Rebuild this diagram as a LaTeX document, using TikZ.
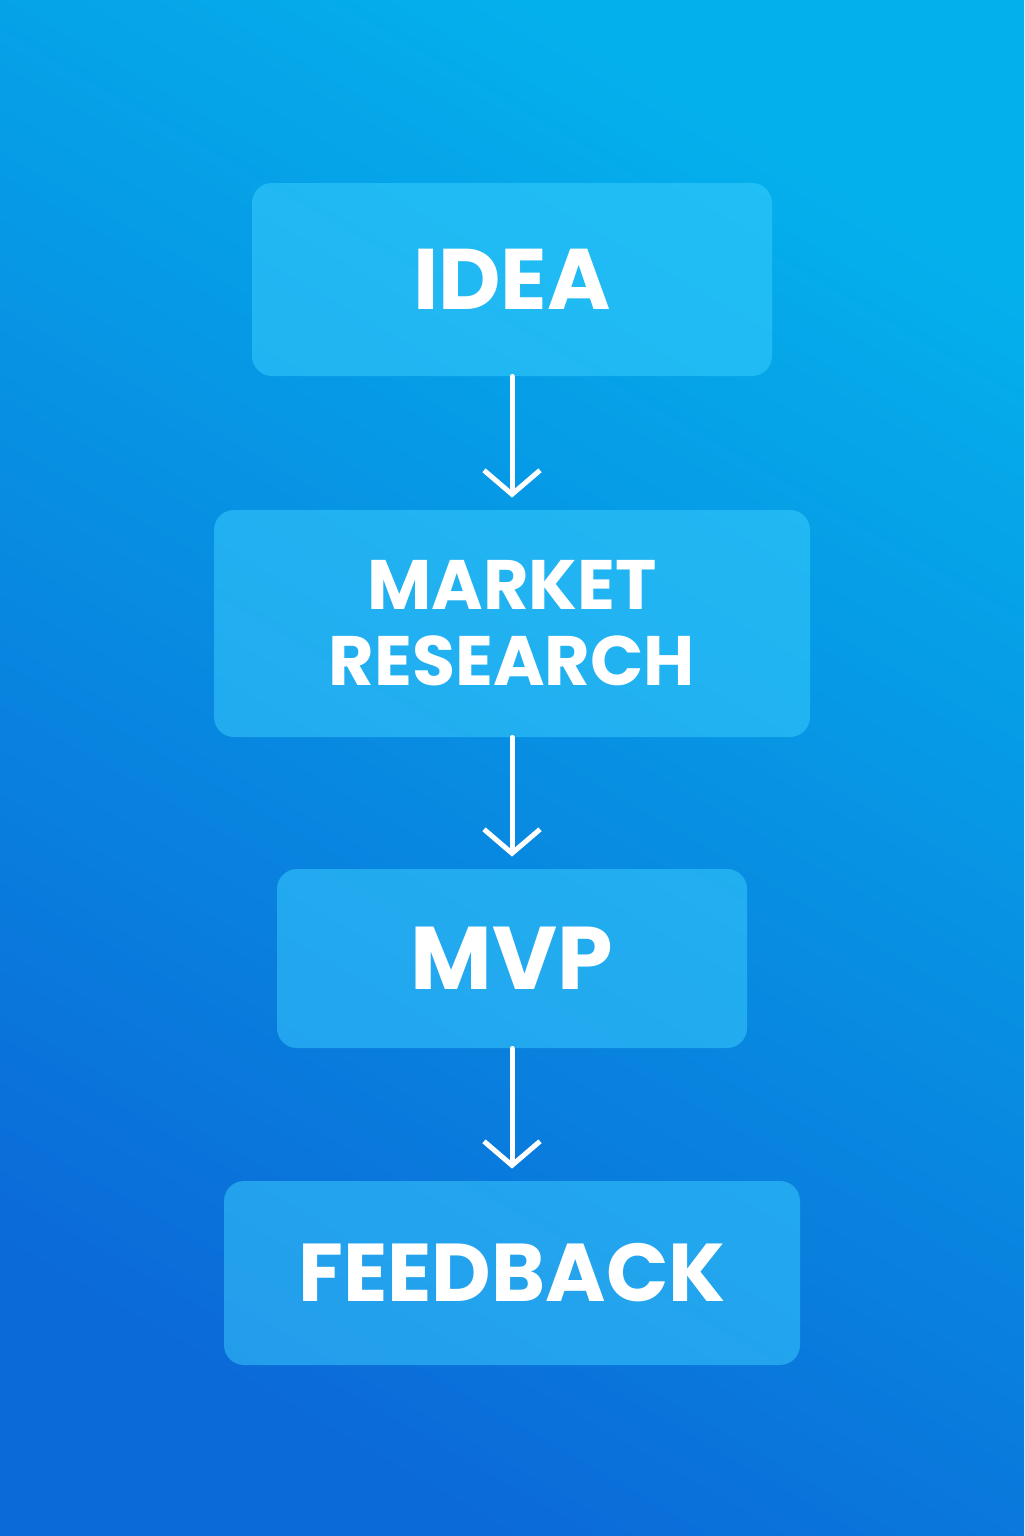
\documentclass[tikz,border=0pt]{standalone}
\usepackage{fontspec}
\setmainfont{Poppins}
\usetikzlibrary{arrows.meta}
\definecolor{bgtop}{HTML}{04B0EC}
\definecolor{bgbot}{HTML}{0B6AD8}
\definecolor{boxfill}{HTML}{3CD0FF}

\begin{document}
\begin{tikzpicture}[x=0.5pt,y=-0.5pt,
	stage/.style={draw=none, fill=boxfill, fill opacity=0.5, text opacity=1, rounded corners=10pt, text=white, font=\bfseries, align=center, inner sep=0pt},
	flow/.style={white, line width=2.5pt, line cap=round, -{Straight Barb[length=12pt,width=28pt,line width=2.5pt]}}]

	% Background
	\shade[shading=axis, top color=bgtop, bottom color=bgbot, shading angle=330] (0,0) rectangle (1024,1536);
	\useasboundingbox (0,0) rectangle (1024,1536);

	% Stages
	\node[stage, minimum width=260pt, minimum height=96.5pt, font=\bfseries\fontsize{43}{43}\selectfont] (idea) at (512,279.5) {IDEA};
	\node[stage, minimum width=298pt, minimum height=113.5pt, font=\bfseries\fontsize{35}{38}\selectfont] (market) at (512,623.5) {MARKET\\RESEARCH};
	\node[stage, minimum width=235pt, minimum height=89.5pt, font=\bfseries\fontsize{44.5}{44.5}\selectfont] (mvp) at (512,958.5) {MVP};
	\node[stage, minimum width=288pt, minimum height=92pt, font=\bfseries\fontsize{41}{41}\selectfont] (feedback) at (512,1273) {FEEDBACK};

	% Arrows
	\draw[flow] (idea) -- ([yshift=6pt]market.north);
	\draw[flow] (market) -- ([yshift=6pt]mvp.north);
	\draw[flow] (mvp) -- ([yshift=6pt]feedback.north);
\end{tikzpicture}
\end{document}
